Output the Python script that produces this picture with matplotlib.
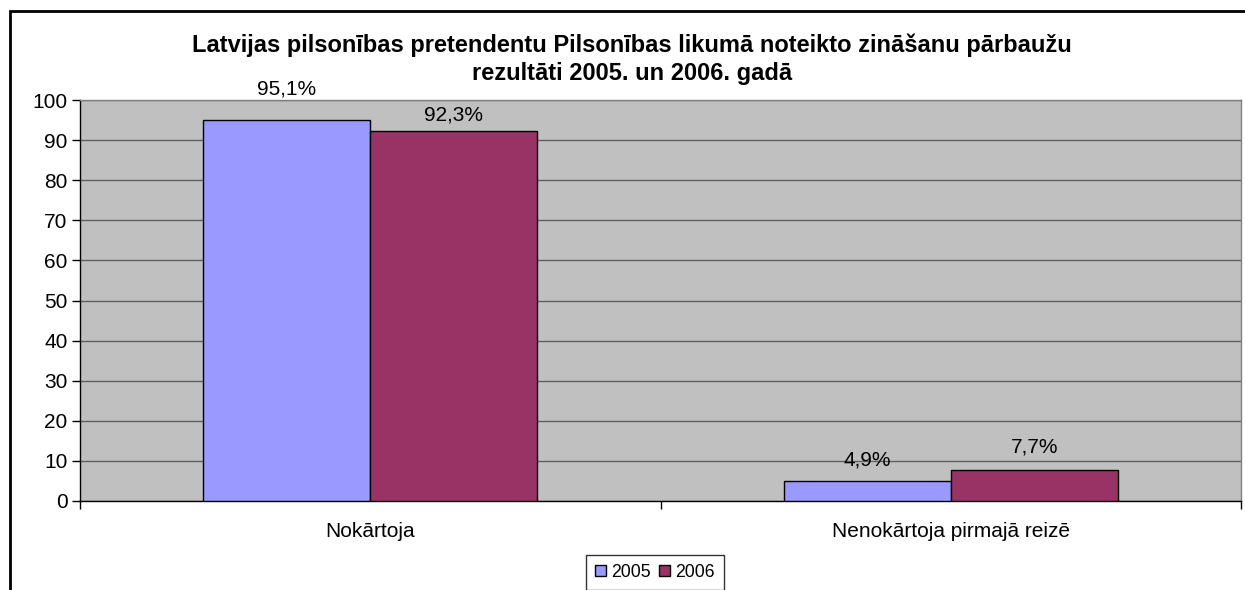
import matplotlib
matplotlib.use("Agg")
import matplotlib.pyplot as plt
import numpy as np
from matplotlib.patches import Rectangle

plt.rcParams['font.family'] = ['Liberation Sans', 'DejaVu Sans']

# data
categories = ['Nokārtoja', 'Nenokārtoja pirmajā reizē']
years = ['2005', '2006']
values_2005 = [95.1, 4.9]
values_2006 = [92.3, 7.7]
labels_2005 = ['95,1%', '4,9%']
labels_2006 = ['92,3%', '7,7%']
title_lines = ['Latvijas pilsonības pretendentu Pilsonības likumā noteikto zināšanu pārbaužu',
               'rezultāti 2005. un 2006. gadā']

colors = ['#9999FF', '#993366']
fs = 15
# label gap above bar top (pixels), as placed in the original
label_gaps = [[25, 16], [10, 18]]

fig = plt.figure(figsize=(12.45, 5.9), dpi=100)
ax = fig.add_axes([80 / 1245, 89 / 590, 1161 / 1245, 401 / 590])
ax.set_facecolor('#C0C0C0')

x = np.arange(len(categories))
width = 0.288
series = [(values_2005, labels_2005), (values_2006, labels_2006)]
for i, (vals, labs) in enumerate(series):
    pos = x + (i - 0.5) * width
    ax.bar(pos, vals, width=width, color=colors[i], edgecolor='black',
           linewidth=1.0, label=years[i], zorder=3)
    for p, v, lab, gap in zip(pos, vals, labs, label_gaps[i]):
        ax.annotate(lab, (p, v), xytext=(0, gap * 0.72),
                    textcoords='offset points', ha='center', va='baseline',
                    fontsize=fs, zorder=4, annotation_clip=False)

ax.set_xlim(-0.5, 1.5)
ax.set_ylim(0, 100)
ax.set_yticks(np.arange(0, 101, 10))
ax.yaxis.grid(True, color='#606060', linewidth=1.0, zorder=1)
ax.set_axisbelow(True)

ax.set_xticks([-0.5, 0.5, 1.5])
ax.set_xticklabels([])
ax.set_xticks(x, minor=True)
ax.set_xticklabels(categories, minor=True)
ax.tick_params(axis='x', which='minor', length=0, pad=15, labelsize=fs)
ax.tick_params(axis='x', which='major', length=6, width=1, direction='out')
ax.tick_params(axis='y', length=6, width=1, direction='out', labelsize=fs,
               pad=3)

for side in ['left', 'bottom']:
    ax.spines[side].set_color('black')
    ax.spines[side].set_linewidth(1.0)
for side in ['top', 'right']:
    ax.spines[side].set_color('#808080')
    ax.spines[side].set_linewidth(1.0)

for line, y_px in zip(title_lines, [52, 80]):
    fig.text(632 / 1245, 1 - y_px / 590, line, ha='center', va='baseline',
             fontsize=17, fontweight='bold')

leg = fig.legend(loc='upper center', bbox_to_anchor=(655 / 1245, 1 - 555 / 590),
                 ncol=2, fontsize=12.7, frameon=True, fancybox=False,
                 handlelength=0.6, handleheight=0.6, handletextpad=0.3,
                 columnspacing=0.5, borderpad=0.5, borderaxespad=0)
leg.get_frame().set_edgecolor('black')
leg.get_frame().set_linewidth(1.0)

# outer chart border (clipped by image edges)
fig.patches.append(Rectangle((9.5 / 1245, -0.2), 1.2, 1.2 - 10.5 / 590,
                             transform=fig.transFigure, fill=False,
                             edgecolor='black', linewidth=2.0))

fig.savefig('out.png', dpi=100)
